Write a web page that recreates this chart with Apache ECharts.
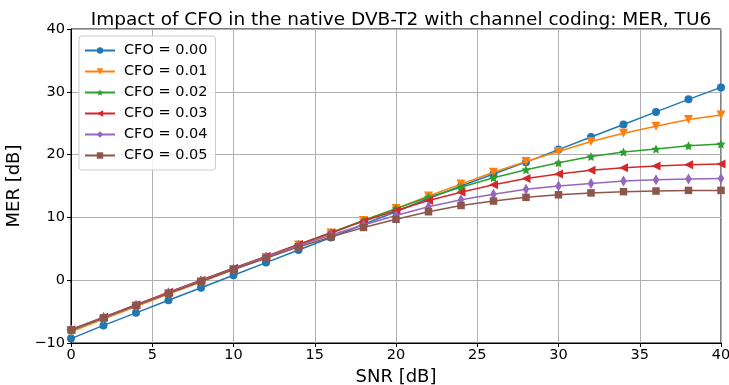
<!DOCTYPE html>
<html>
<head>
<meta charset="utf-8">
<script src="https://cdn.jsdelivr.net/npm/echarts@6/dist/echarts.min.js"></script>
<style>
  html, body { margin: 0; padding: 0; background: #fff; }
  #chart { width: 729px; height: 385px; }
</style>
</head>
<body>
<div id="chart"></div>
<script>
// SNR sweep in dB
const snr = [0, 2, 4, 6, 8, 10, 12, 14, 16, 18, 20, 22, 24, 26, 28, 30, 32, 34, 36, 38, 40];

// MER [dB] for each carrier frequency offset
const cfo000 = [-9.3, -7.2, -5.2, -3.2, -1.2, 0.8, 2.8, 4.8, 6.8, 8.9, 10.9, 13.0, 15.0, 16.9, 18.8, 20.8, 22.8, 24.8, 26.8, 28.8, 30.7];
const cfo001 = [-8.2, -6.2, -4.2, -2.2, -0.3, 1.7, 3.6, 5.6, 7.5, 9.5, 11.4, 13.4, 15.3, 17.2, 18.9, 20.5, 22.1, 23.4, 24.5, 25.6, 26.3];
const cfo002 = [-8.0, -6.0, -4.0, -2.0, 0.0, 1.9, 3.8, 5.7, 7.6, 9.5, 11.4, 13.2, 14.8, 16.3, 17.6, 18.7, 19.7, 20.4, 20.9, 21.4, 21.7];
const cfo003 = [-7.9, -5.9, -3.9, -1.9, 0.0, 1.9, 3.8, 5.7, 7.5, 9.4, 11.1, 12.7, 14.0, 15.2, 16.2, 16.9, 17.5, 17.9, 18.2, 18.4, 18.5];
const cfo004 = [-7.9, -5.9, -4.0, -2.0, -0.1, 1.8, 3.7, 5.5, 7.2, 8.8, 10.3, 11.7, 12.8, 13.7, 14.5, 15.0, 15.4, 15.8, 16.0, 16.1, 16.2];
const cfo005 = [-7.9, -6.0, -4.0, -2.1, -0.2, 1.7, 3.5, 5.3, 6.9, 8.4, 9.7, 10.9, 11.9, 12.6, 13.2, 13.6, 13.9, 14.1, 14.2, 14.3, 14.3];

const seriesNames = ['CFO = 0.00', 'CFO = 0.01', 'CFO = 0.02', 'CFO = 0.03', 'CFO = 0.04', 'CFO = 0.05'];
const seriesValues = [cfo000, cfo001, cfo002, cfo003, cfo004, cfo005];
const colors = ['#1f77b4', '#ff7f0e', '#2ca02c', '#d62728', '#9467bd', '#8c564b'];

const starPath = 'path://M0,-10 L2.94,-4.05 9.51,-3.09 4.76,1.55 5.88,8.09 0,5 -5.88,8.09 -4.76,1.55 -9.51,-3.09 -2.94,-4.05Z';
const markers = [
  { symbol: 'circle', symbolSize: 8, symbolRotate: 0 },
  { symbol: 'triangle', symbolSize: 9, symbolRotate: 180 },
  { symbol: starPath, symbolSize: 9, symbolRotate: 0 },
  { symbol: 'triangle', symbolSize: 9, symbolRotate: 90 },
  { symbol: 'diamond', symbolSize: [6.5, 11], symbolRotate: 0 },
  { symbol: 'rect', symbolSize: 7.5, symbolRotate: 0 }
];

const font = 'DejaVu Sans';
const minus = v => String(v).replace('-', '\u2212');

const chart = echarts.init(document.getElementById('chart'), null, { renderer: 'canvas' });

chart.setOption({
  animation: false,
  backgroundColor: '#fff',
  title: {
    text: 'Impact of CFO in the native DVB-T2 with channel coding: MER, TU6',
    left: 396, top: 6, textAlign: 'center',
    textStyle: { fontFamily: font, fontSize: 18.5, fontWeight: 'normal', color: '#000' }
  },
  grid: {
    left: 71, right: 8, top: 29, bottom: 42,
    outerBoundsMode: 'none',
    show: true, borderColor: '#000', borderWidth: 1, backgroundColor: 'transparent'
  },
  legend: {
    orient: 'vertical', left: 79, top: 36,
    data: seriesNames,
    itemWidth: 30, itemHeight: 8, itemGap: 6,
    padding: [7, 8, 7, 5],
    backgroundColor: 'rgba(255,255,255,0.85)',
    borderColor: '#cccccc', borderWidth: 1, borderRadius: 3,
    textStyle: { fontFamily: font, fontSize: 14.5, color: '#000', padding: [0, 0, 0, 4] }
  },
  xAxis: {
    type: 'value', min: 0, max: 40, interval: 5,
    name: 'SNR [dB]', nameLocation: 'middle', nameGap: 24,
    nameTextStyle: { fontFamily: font, fontSize: 18, color: '#000' },
    axisLine: { show: true, onZero: false, lineStyle: { color: '#000', width: 1 } },
    axisTick: { show: true, length: 4, lineStyle: { color: '#000' } },
    axisLabel: { fontFamily: font, fontSize: 14.5, color: '#000', margin: 5, formatter: minus },
    splitLine: { show: true, lineStyle: { color: '#b0b0b0', width: 1 } }
  },
  yAxis: {
    type: 'value', min: -10, max: 40, interval: 10,
    name: 'MER [dB]', nameLocation: 'middle', nameGap: 42, nameRotate: 90,
    nameTextStyle: { fontFamily: font, fontSize: 18, color: '#000' },
    axisLine: { show: true, onZero: false, lineStyle: { color: '#000', width: 1 } },
    axisTick: { show: true, length: 4, lineStyle: { color: '#000' } },
    axisLabel: { fontFamily: font, fontSize: 14.5, color: '#000', margin: 6, formatter: minus },
    splitLine: { show: true, lineStyle: { color: '#b0b0b0', width: 1 } }
  },
  series: seriesNames.map((name, i) => ({
    name: name,
    type: 'line',
    data: snr.map((x, j) => [x, seriesValues[i][j]]),
    color: colors[i],
    lineStyle: { width: 1.5, color: colors[i] },
    itemStyle: { color: colors[i] },
    symbol: markers[i].symbol,
    symbolSize: markers[i].symbolSize,
    symbolRotate: markers[i].symbolRotate,
    showAllSymbol: true,
    clip: false,
    z: 2 + i
  }))
});
</script>
</body>
</html>
